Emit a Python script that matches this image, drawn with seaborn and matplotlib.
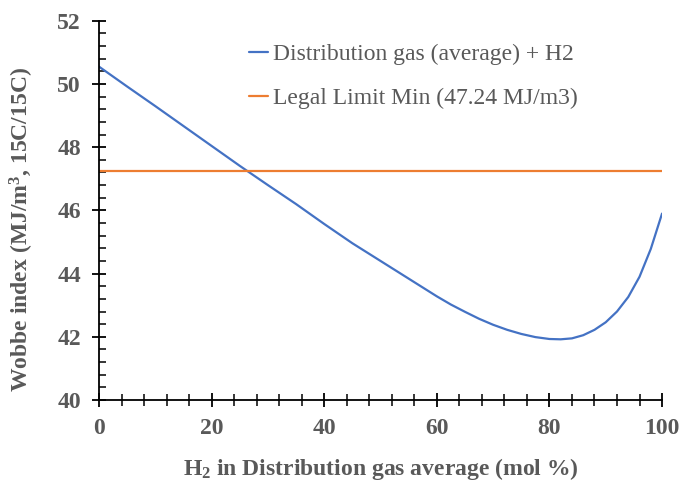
import matplotlib
matplotlib.use("Agg")
import matplotlib.pyplot as plt
from matplotlib.ticker import MultipleLocator
import pandas as pd
import seaborn as sns

# H2 share in the blend (mol %) and the resulting Wobbe index (MJ/m3, 15C/15C)
h2_share = [0, 5, 10, 15, 20, 25, 30, 35, 40, 45, 50, 55, 60, 62.5, 65, 67.5,
            70, 72.5, 75, 77.5, 80, 82, 84, 86, 88, 90, 92, 94, 96, 98, 100]
wobbe_blend = [50.55, 49.92, 49.30, 48.67, 48.04, 47.41, 46.80, 46.20, 45.57,
               44.96, 44.40, 43.84, 43.28, 43.02, 42.79, 42.57, 42.38, 42.22,
               42.09, 41.99, 41.93, 41.92, 41.95, 42.05, 42.22, 42.46, 42.80,
               43.26, 43.90, 44.78, 45.90]
legal_min = 47.24

series_names = ["Distribution gas (average) + H2",
                "Legal Limit Min (47.24 MJ/m3)"]
colors = ["#4472C4", "#ED7D31"]

df = pd.concat([
    pd.DataFrame({"x": h2_share, "y": wobbe_blend, "series": series_names[0]}),
    pd.DataFrame({"x": h2_share, "y": [legal_min] * len(h2_share),
                  "series": series_names[1]}),
])

sns.set_style("white")
plt.rcParams["font.family"] = ["Liberation Serif", "DejaVu Serif"]
plt.rcParams["mathtext.default"] = "regular"

fig = plt.figure(figsize=(6.8, 4.84), dpi=100)
ax = fig.add_axes([0.1456, 0.1736, 0.828, 0.7834])

sns.lineplot(data=df, x="x", y="y", hue="series", palette=colors,
             linewidth=1.6, ax=ax, legend=True)

ax.set_xlim(0, 100)
ax.set_ylim(40, 52)
ax.xaxis.set_major_locator(MultipleLocator(20))
ax.xaxis.set_minor_locator(MultipleLocator(4))
ax.yaxis.set_major_locator(MultipleLocator(2))
ax.yaxis.set_minor_locator(MultipleLocator(0.4))

grey = "#595959"
for s in ["top", "right"]:
    ax.spines[s].set_visible(False)
for s in ["left", "bottom"]:
    ax.spines[s].set_color("black")
    ax.spines[s].set_linewidth(1.3)

ax.tick_params(bottom=True, left=True, top=False, right=False, which="both")
ax.tick_params(axis="x", which="major", direction="inout", length=10,
               width=1.3, color="black", pad=8, labelsize=17, labelcolor=grey)
ax.tick_params(axis="x", which="minor", direction="inout", length=8,
               width=1.1, color="black")
ax.tick_params(axis="y", which="major", direction="inout", length=10,
               width=1.3, color="black", pad=8, labelsize=17, labelcolor=grey)
ax.tick_params(axis="y", which="minor", direction="in", length=5,
               width=1.1, color="black")
for lbl in ax.get_xticklabels() + ax.get_yticklabels():
    lbl.set_fontweight("bold")

ax.set_xlabel("H$_2$ in Distribution gas average (mol %)", fontsize=17,
              fontweight="bold", color=grey, labelpad=12)
ax.set_ylabel("Wobbe index (MJ/m$^3$, 15C/15C)", fontsize=17,
              fontweight="bold", color=grey)
ax.yaxis.set_label_coords(-0.112, 0.45)

leg = ax.legend(loc="upper left", bbox_to_anchor=(0.25, 0.965), frameon=False,
                fontsize=17, handlelength=0.8, handletextpad=0.2,
                labelspacing=0.95, borderaxespad=0)
for txt in leg.get_texts():
    txt.set_color(grey)

fig.savefig("out.png", dpi=100)
